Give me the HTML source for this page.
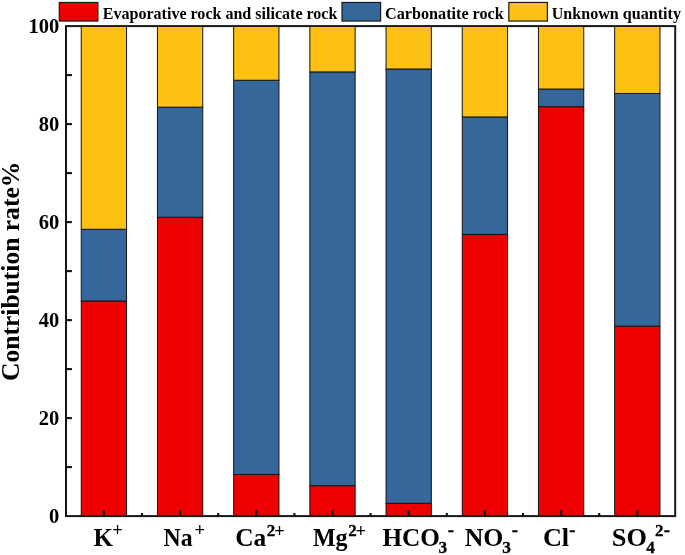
<!DOCTYPE html>
<html lang="en"><head><meta charset="utf-8"><title>Contribution rate</title>
<style>html,body{margin:0;padding:0;background:#fff}svg{display:block}text{font-family:"Liberation Serif","Times New Roman",serif;font-weight:bold;fill:#000}</style></head><body>
<svg width="685" height="555" viewBox="0 0 685 555">
<rect x="0" y="0" width="685" height="555" fill="#fff"/>
<rect x="66.0" y="26.1" width="609.2" height="490.00" fill="none" stroke="#161616" stroke-width="2"/>
<g stroke="#151515" stroke-width="1.0">
<rect x="81.25" y="300.96" width="45.3" height="214.84" fill="#ee0000"/>
<rect x="81.25" y="229.25" width="45.3" height="71.70" fill="#35679b"/>
<rect x="81.25" y="26.4" width="45.3" height="202.85" fill="#fdc113"/>
<rect x="157.45" y="217.25" width="45.3" height="298.55" fill="#ee0000"/>
<rect x="157.45" y="107.15" width="45.3" height="110.10" fill="#35679b"/>
<rect x="157.45" y="26.4" width="45.3" height="80.75" fill="#fdc113"/>
<rect x="233.65" y="474.45" width="45.3" height="41.35" fill="#ee0000"/>
<rect x="233.65" y="80.24" width="45.3" height="394.21" fill="#35679b"/>
<rect x="233.65" y="26.4" width="45.3" height="53.84" fill="#fdc113"/>
<rect x="309.85" y="485.70" width="45.3" height="30.10" fill="#ee0000"/>
<rect x="309.85" y="71.91" width="45.3" height="413.79" fill="#35679b"/>
<rect x="309.85" y="26.4" width="45.3" height="45.51" fill="#fdc113"/>
<rect x="386.05" y="503.32" width="45.3" height="12.48" fill="#ee0000"/>
<rect x="386.05" y="68.97" width="45.3" height="434.35" fill="#35679b"/>
<rect x="386.05" y="26.4" width="45.3" height="42.57" fill="#fdc113"/>
<rect x="462.25" y="234.39" width="45.3" height="281.41" fill="#ee0000"/>
<rect x="462.25" y="116.94" width="45.3" height="117.45" fill="#35679b"/>
<rect x="462.25" y="26.4" width="45.3" height="90.54" fill="#fdc113"/>
<rect x="538.45" y="106.66" width="45.3" height="409.14" fill="#ee0000"/>
<rect x="538.45" y="89.05" width="45.3" height="17.62" fill="#35679b"/>
<rect x="538.45" y="26.4" width="45.3" height="62.65" fill="#fdc113"/>
<rect x="614.65" y="326.16" width="45.3" height="189.64" fill="#ee0000"/>
<rect x="614.65" y="93.45" width="45.3" height="232.71" fill="#35679b"/>
<rect x="614.65" y="26.4" width="45.3" height="67.05" fill="#fdc113"/>
</g>
<g stroke="#111" stroke-width="2.1">
<line x1="66.0" y1="467.10" x2="71.9" y2="467.10"/>
<line x1="66.0" y1="418.10" x2="71.9" y2="418.10"/>
<line x1="66.0" y1="369.10" x2="71.9" y2="369.10"/>
<line x1="66.0" y1="320.10" x2="71.9" y2="320.10"/>
<line x1="66.0" y1="271.10" x2="71.9" y2="271.10"/>
<line x1="66.0" y1="222.10" x2="71.9" y2="222.10"/>
<line x1="66.0" y1="173.10" x2="71.9" y2="173.10"/>
<line x1="66.0" y1="124.10" x2="71.9" y2="124.10"/>
<line x1="66.0" y1="75.10" x2="71.9" y2="75.10"/>
<line x1="103.90" y1="516.1" x2="103.90" y2="510.20000000000005"/>
<line x1="142.00" y1="516.1" x2="142.00" y2="513.0"/>
<line x1="180.10" y1="516.1" x2="180.10" y2="510.20000000000005"/>
<line x1="218.20" y1="516.1" x2="218.20" y2="513.0"/>
<line x1="256.30" y1="516.1" x2="256.30" y2="510.20000000000005"/>
<line x1="294.40" y1="516.1" x2="294.40" y2="513.0"/>
<line x1="332.50" y1="516.1" x2="332.50" y2="510.20000000000005"/>
<line x1="370.60" y1="516.1" x2="370.60" y2="513.0"/>
<line x1="408.70" y1="516.1" x2="408.70" y2="510.20000000000005"/>
<line x1="446.80" y1="516.1" x2="446.80" y2="513.0"/>
<line x1="484.90" y1="516.1" x2="484.90" y2="510.20000000000005"/>
<line x1="523.00" y1="516.1" x2="523.00" y2="513.0"/>
<line x1="561.10" y1="516.1" x2="561.10" y2="510.20000000000005"/>
<line x1="599.20" y1="516.1" x2="599.20" y2="513.0"/>
<line x1="637.30" y1="516.1" x2="637.30" y2="510.20000000000005"/>
</g>
<g font-size="20.5" text-anchor="end">
<text x="59.2" y="522.80">0</text>
<text x="59.2" y="424.80">20</text>
<text x="59.2" y="326.80">40</text>
<text x="59.2" y="228.80">60</text>
<text x="59.2" y="130.80">80</text>
<text x="59.2" y="32.80">100</text>
</g>
<text font-size="25.3" transform="translate(19.0 381.0) rotate(-90)" textLength="219.3" lengthAdjust="spacingAndGlyphs">Contribution rate%</text>
<rect x="59.3" y="2.45" width="38.6" height="18.6" fill="#ee0000" stroke="#1a1a1a" stroke-width="1.2"/>
<rect x="342" y="2.45" width="38.6" height="18.6" fill="#35679b" stroke="#1a1a1a" stroke-width="1.2"/>
<rect x="508.8" y="2.45" width="38.6" height="18.6" fill="#fdc113" stroke="#1a1a1a" stroke-width="1.2"/>
<g font-size="16">
<text x="102.8" y="18.6" textLength="234.6" lengthAdjust="spacingAndGlyphs">Evaporative rock and silicate rock</text>
<text x="385.1" y="18.6" textLength="118.6" lengthAdjust="spacingAndGlyphs">Carbonatite rock</text>
<text x="551.7" y="18.6" textLength="129.3" lengthAdjust="spacingAndGlyphs">Unknown quantity</text>
</g>
<g>
<text x="93.55" y="545.85" font-size="25" textLength="19.5" lengthAdjust="spacingAndGlyphs">K</text>
<text x="112.35" y="536.42" font-size="18.5">+</text>
<text x="163.55" y="545.85" font-size="25" textLength="29.07" lengthAdjust="spacingAndGlyphs">Na</text>
<text x="194.55" y="536.42" font-size="18.5">+</text>
<text x="235.25" y="545.85" font-size="25" textLength="31.09" lengthAdjust="spacingAndGlyphs">Ca</text>
<text x="266.80" y="535.65" font-size="17" stroke="#000" stroke-width="0.3">2</text>
<text x="274.15" y="536.73" font-size="18.5">+</text>
<text x="312.90" y="545.85" font-size="25" textLength="34.63" lengthAdjust="spacingAndGlyphs">Mg</text>
<text x="348.30" y="535.65" font-size="17" stroke="#000" stroke-width="0.3">2</text>
<text x="355.50" y="536.73" font-size="18.5">+</text>
<text x="382.40" y="545.85" font-size="25" textLength="57.47" lengthAdjust="spacingAndGlyphs">HCO</text>
<text x="438.50" y="552.65" font-size="17.3" stroke="#000" stroke-width="0.3">3</text>
<text x="447.85" y="536.08" font-size="18.5" stroke="#000" stroke-width="0.3">-</text>
<text x="464.65" y="545.85" font-size="25" textLength="38.75" lengthAdjust="spacingAndGlyphs">NO</text>
<text x="502.15" y="552.65" font-size="17.3" stroke="#000" stroke-width="0.3">3</text>
<text x="511.85" y="536.08" font-size="18.5" stroke="#000" stroke-width="0.3">-</text>
<text x="542.90" y="545.85" font-size="25" textLength="26.28" lengthAdjust="spacingAndGlyphs">Cl</text>
<text x="569.35" y="536.08" font-size="18.5" stroke="#000" stroke-width="0.3">-</text>
<text x="611.75" y="545.85" font-size="25" textLength="35.15" lengthAdjust="spacingAndGlyphs">SO</text>
<text x="646.15" y="552.95" font-size="17.3" stroke="#000" stroke-width="0.3">4</text>
<text x="655.00" y="535.85" font-size="17" stroke="#000" stroke-width="0.3">2</text>
<text x="663.65" y="536.38" font-size="18.5" stroke="#000" stroke-width="0.3">-</text>
</g>
</svg></body></html>
